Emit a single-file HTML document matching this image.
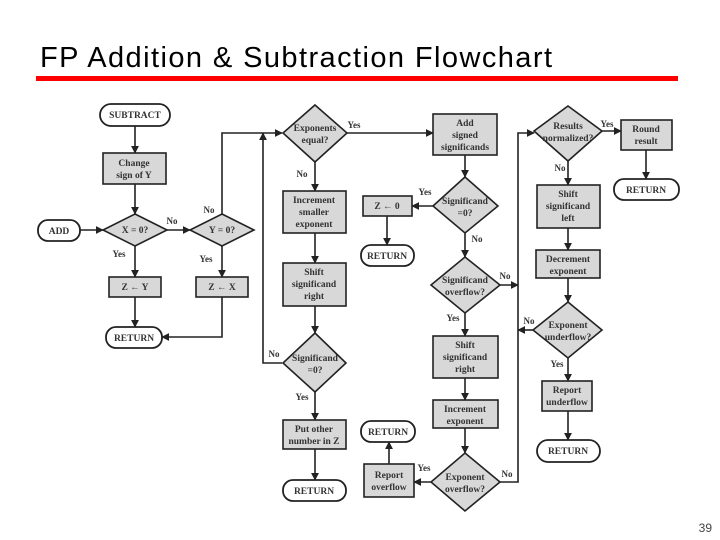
<!DOCTYPE html>
<html><head><meta charset="utf-8"><style>
html,body{margin:0;padding:0;background:#fff;width:720px;height:540px;overflow:hidden}
svg{display:block}
.t{font-family:"Liberation Serif",serif;font-weight:bold;font-size:9.5px;fill:#333;text-anchor:middle}
.b{fill:#d8d8d8;stroke:#222;stroke-width:1.6}
.r{fill:#fff;stroke:#222;stroke-width:1.8}
.l{fill:none;stroke:#222;stroke-width:1.6}
</style></head><body>
<svg width="720" height="540" viewBox="0 0 720 540" xmlns="http://www.w3.org/2000/svg">
<defs><marker id="a" viewBox="0 0 10 10" refX="9" refY="5" markerWidth="5" markerHeight="5" orient="auto"><path d="M0,0L10,5L0,10z" fill="#222"/></marker></defs>
<text x="40" y="67" font-family="Liberation Sans,Arial,sans-serif" font-size="29" fill="#000" textLength="512">FP Addition &amp; Subtraction Flowchart</text>
<rect x="36" y="76" width="642" height="5" fill="#f00"/>
<text x="712" y="532" font-family="Liberation Sans,sans-serif" font-size="12" fill="#444" text-anchor="end">39</text>

<!-- connectors -->
<g class="l" marker-end="url(#a)">
<path d="M135,126V153"/>
<path d="M135,184V214"/>
<path d="M80,230H103"/>
<path d="M167,230H190"/>
<path d="M135,246V277"/>
<path d="M222,246V277"/>
<path d="M135,297V327"/>
<path d="M222,297V337H162"/>
<path d="M222,214V133H282"/>
<path d="M282,363H263V133"/>
<path d="M347,133H433"/>
<path d="M315,162V191"/>
<path d="M315,233V263"/>
<path d="M315,306V333"/>
<path d="M315,392V420"/>
<path d="M315,449V480"/>
<path d="M465,155V177"/>
<path d="M433,206H412"/>
<path d="M387,216V245"/>
<path d="M465,233V257"/>
<path d="M500,285H518"/>
<path d="M465,313V336"/>
<path d="M465,378V400"/>
<path d="M465,428V453"/>
<path d="M431,482H414"/>
<path d="M389,464V442"/>
<path d="M500,482H518V133H534"/>
<path d="M602,131H621"/>
<path d="M646,150V179"/>
<path d="M568,161V185"/>
<path d="M568,228V250"/>
<path d="M568,278V302"/>
<path d="M533,330H518"/>
<path d="M568,358V381"/>
<path d="M568,411V440"/>
</g>

<!-- terminals -->
<rect class="r" x="100" y="104" width="70" height="22" rx="11"/><text class="t" x="135" y="118">SUBTRACT</text>
<rect class="r" x="38" y="220" width="42" height="21" rx="10"/><text class="t" x="59" y="234">ADD</text>
<rect class="r" x="106" y="327" width="56" height="21" rx="10"/><text class="t" x="134" y="341">RETURN</text>
<rect class="r" x="283" y="480" width="63" height="21" rx="10"/><text class="t" x="314" y="494">RETURN</text>
<rect class="r" x="361" y="245" width="53" height="21" rx="10"/><text class="t" x="387" y="259">RETURN</text>
<rect class="r" x="361" y="421" width="54" height="21" rx="10"/><text class="t" x="388" y="435">RETURN</text>
<rect class="r" x="614" y="179" width="65" height="21" rx="10"/><text class="t" x="646" y="193">RETURN</text>
<rect class="r" x="537" y="440" width="63" height="22" rx="11"/><text class="t" x="568" y="454">RETURN</text>

<!-- boxes -->
<rect class="b" x="103" y="153" width="63" height="31"/><text class="t" x="134" y="166">Change</text><text class="t" x="134" y="178">sign of Y</text>
<rect class="b" x="109" y="277" width="52" height="20"/><text class="t" x="135" y="290">Z ← Y</text>
<rect class="b" x="196" y="277" width="52" height="20"/><text class="t" x="222" y="290">Z ← X</text>
<rect class="b" x="283" y="191" width="63" height="42"/><text class="t" x="314" y="203">Increment</text><text class="t" x="314" y="215">smaller</text><text class="t" x="314" y="227">exponent</text>
<rect class="b" x="283" y="263" width="63" height="43"/><text class="t" x="314" y="275">Shift</text><text class="t" x="314" y="287">significand</text><text class="t" x="314" y="299">right</text>
<rect class="b" x="283" y="420" width="63" height="29"/><text class="t" x="314" y="432">Put other</text><text class="t" x="314" y="444">number in Z</text>
<rect class="b" x="433" y="114" width="64" height="41"/><text class="t" x="465" y="126">Add</text><text class="t" x="465" y="138">signed</text><text class="t" x="465" y="150">significands</text>
<rect class="b" x="363" y="196" width="49" height="20"/><text class="t" x="387" y="209">Z ← 0</text>
<rect class="b" x="433" y="336" width="65" height="42"/><text class="t" x="465" y="348">Shift</text><text class="t" x="465" y="360">significand</text><text class="t" x="465" y="372">right</text>
<rect class="b" x="433" y="400" width="65" height="28"/><text class="t" x="465" y="412">Increment</text><text class="t" x="465" y="424">exponent</text>
<rect class="b" x="364" y="464" width="50" height="33"/><text class="t" x="389" y="478">Report</text><text class="t" x="389" y="490">overflow</text>
<rect class="b" x="621" y="120" width="51" height="30"/><text class="t" x="646" y="132">Round</text><text class="t" x="646" y="144">result</text>
<rect class="b" x="537" y="185" width="63" height="43"/><text class="t" x="568" y="197">Shift</text><text class="t" x="568" y="209">significand</text><text class="t" x="568" y="221">left</text>
<rect class="b" x="536" y="250" width="64" height="28"/><text class="t" x="568" y="262">Decrement</text><text class="t" x="568" y="274">exponent</text>
<rect class="b" x="542" y="381" width="50" height="30"/><text class="t" x="567" y="393">Report</text><text class="t" x="567" y="405">underflow</text>

<!-- diamonds -->
<path class="b" d="M135,214L167,230L135,246L103,230Z"/><text class="t" x="135" y="233">X = 0?</text>
<path class="b" d="M222,214L254,230L222,246L190,230Z"/><text class="t" x="222" y="233">Y = 0?</text>
<path class="b" d="M315,105L347,133L315,162L283,133Z"/><text class="t" x="315" y="131">Exponents</text><text class="t" x="315" y="143">equal?</text>
<path class="b" d="M315,333L346,363L315,392L283,363Z"/><text class="t" x="315" y="361">Significand</text><text class="t" x="315" y="373">=0?</text>
<path class="b" d="M465,177L498,206L465,233L433,206Z"/><text class="t" x="465" y="204">Significand</text><text class="t" x="465" y="216">=0?</text>
<path class="b" d="M465,257L500,285L465,313L431,285Z"/><text class="t" x="465" y="283">Significand</text><text class="t" x="465" y="295">overflow?</text>
<path class="b" d="M465,453L500,482L465,511L431,482Z"/><text class="t" x="465" y="480">Exponent</text><text class="t" x="465" y="492">overflow?</text>
<path class="b" d="M568,106L602,131L568,161L534,131Z"/><text class="t" x="568" y="129">Results</text><text class="t" x="568" y="141">normalized?</text>
<path class="b" d="M568,302L602,330L568,358L533,330Z"/><text class="t" x="568" y="328">Exponent</text><text class="t" x="568" y="340">underflow?</text>

<!-- labels -->
<g class="t" style="font-size:9px">
<text x="172" y="224">No</text>
<text x="209" y="213">No</text>
<text x="119" y="257">Yes</text>
<text x="206" y="262">Yes</text>
<text x="354" y="128">Yes</text>
<text x="302" y="177">No</text>
<text x="274" y="357">No</text>
<text x="302" y="400">Yes</text>
<text x="425" y="195">Yes</text>
<text x="477" y="242">No</text>
<text x="505" y="279">No</text>
<text x="453" y="321">Yes</text>
<text x="424" y="471">Yes</text>
<text x="507" y="477">No</text>
<text x="607" y="127">Yes</text>
<text x="560" y="171">No</text>
<text x="529" y="324">No</text>
<text x="557" y="367">Yes</text>
</g>
</svg>
</body></html>
